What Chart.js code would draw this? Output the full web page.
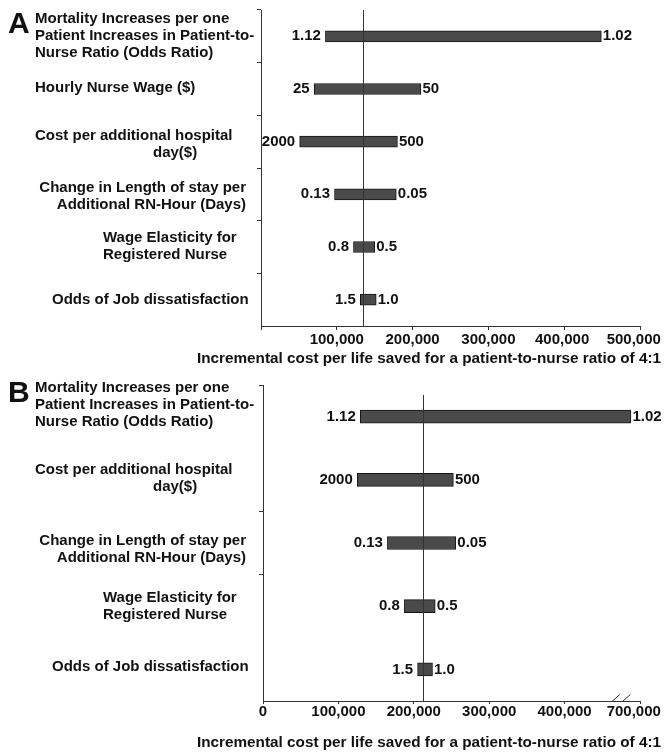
<!DOCTYPE html>
<html lang="en">
<head>
<meta charset="utf-8">
<title>Tornado diagrams: incremental cost per life saved</title>
<script src="https://cdn.jsdelivr.net/npm/chart.js@4.4.1/dist/chart.umd.min.js"></script>
<style>
  html, body { margin: 0; padding: 0; background: #ffffff; }
  #page { position: relative; width: 665px; height: 755px; overflow: hidden; }
  #page canvas { position: absolute; left: 0; }
  #panelA { top: 0; }
  #panelB { top: 370px; }
</style>
</head>
<body>
<div id="page">
  <canvas id="panelA" width="665" height="370"></canvas>
  <canvas id="panelB" width="665" height="385"></canvas>
</div>
<script>
// ---------- Panel A ----------
const categoriesA = [
  ['Mortality Increases per one', 'Patient Increases in Patient-to-', 'Nurse Ratio (Odds Ratio)'],
  ['Hourly Nurse Wage ($)'],
  ['Cost per additional hospital', 'day($)'],
  ['Change in Length of stay per', 'Additional RN-Hour (Days)'],
  ['Wage Elasticity for', 'Registered Nurse'],
  ['Odds of Job dissatisfaction']
];
const lowCostA  = [85000, 70000, 51000, 97000, 122000, 131000];
const highCostA = [449000, 211000, 180000, 178500, 150000, 152000];
const lowLabelsA  = ['1.12', '25', '2000', '0.13', '0.8', '1.5'];
const highLabelsA = ['1.02', '50', '500', '0.05', '0.5', '1.0'];
const baseCaseA = 134000;
const xTickValuesA = [0, 100000, 200000, 300000, 400000, 500000];
const xTickLabelsA = ['', '100,000', '200,000', '300,000', '400,000', '500,000'];

// ---------- Panel B ----------
const categoriesB = [
  ['Mortality Increases per one', 'Patient Increases in Patient-to-', 'Nurse Ratio (Odds Ratio)'],
  ['Cost per additional hospital', 'day($)'],
  ['Change in Length of stay per', 'Additional RN-Hour (Days)'],
  ['Wage Elasticity for', 'Registered Nurse'],
  ['Odds of Job dissatisfaction']
];
const lowCostB  = [129000, 125000, 165000, 187500, 205000];
const highCostB = [664000, 252500, 255700, 228400, 224800];
const lowLabelsB  = ['1.12', '2000', '0.13', '0.8', '1.5'];
const highLabelsB = ['1.02', '500', '0.05', '0.5', '1.0'];
const baseCaseB = 212500;
const xTickValuesB = [0, 100000, 200000, 300000, 400000, 700000];
const xTickLabelsB = ['0', '100,000', '200,000', '300,000', '400,000', '700,000'];

const axisTitle = 'Incremental cost per life saved for a patient-to-nurse ratio of 4:1';

// ---------- styling ----------
const FONT = '"Liberation Sans", Arial, Helvetica, sans-serif';
const INK = '#111111';
const AXIS = '#333333';
const BAR_FILL = '#4a4a4a';
const BAR_EDGE = '#141414';
const LINE_H = 17;

// how each parameter name is set beside its row: alignment, x of each line, vertical shift
const nameLayoutA = [
  { align: 'left',  x: [35, 35, 35], dy: 0 },
  { align: 'left',  x: [35], dy: -1 },
  { align: 'left',  x: [35, 153], dy: 3 },
  { align: 'right', x: [246, 246], dy: 2 },
  { align: 'left',  x: [103, 103], dy: -1 },
  { align: 'left',  x: [52], dy: 0 }
];
const nameLayoutB = [
  { align: 'left',  x: [35, 35, 35], dy: -12 },
  { align: 'left',  x: [35, 153], dy: -1.5 },
  { align: 'right', x: [246, 246], dy: 6 },
  { align: 'left',  x: [103, 103], dy: 0 },
  { align: 'left',  x: [52], dy: -3 }
];

// Linear axis whose values above `breakAt` are squeezed by `squeeze` (broken x axis of panel B)
class BrokenLinearScale extends Chart.LinearScale {
  static id = 'brokenLinear';
  static defaults = Chart.LinearScale.defaults;
  _brk() {
    return { at: this.options.breakAt ?? Infinity, k: this.options.squeeze ?? 1 };
  }
  _toAxis(v) { const b = this._brk(); return v <= b.at ? v : b.at + (v - b.at) / b.k; }
  _fromAxis(a) { const b = this._brk(); return a <= b.at ? a : b.at + (a - b.at) * b.k; }
  getPixelForValue(v) {
    if (v === null || v === undefined || isNaN(v)) return NaN;
    const a0 = this._toAxis(this.min), a1 = this._toAxis(this.max);
    return this.getPixelForDecimal((this._toAxis(v) - a0) / (a1 - a0));
  }
  getValueForPixel(px) {
    const a0 = this._toAxis(this.min), a1 = this._toAxis(this.max);
    return this._fromAxis(a0 + this.getDecimalForPixel(px) * (a1 - a0));
  }
}
Chart.register(BrokenLinearScale);

// reference line, end labels, parameter names, axis title, panel letter
function tornadoPlugin(p) {
  return {
    id: 'tornado' + p.letter,
    afterDatasetsDraw(chart) {
      const { ctx, chartArea } = chart;
      const xs = chart.scales.x, ys = chart.scales.y;
      ctx.save();

      // base-case value
      const bx = Math.round(xs.getPixelForValue(p.baseCase)) + 0.5;
      ctx.strokeStyle = AXIS;
      ctx.lineWidth = 1;
      ctx.beginPath();
      ctx.moveTo(bx, chartArea.top + p.baseInset);
      ctx.lineTo(bx, chartArea.bottom);
      ctx.stroke();

      // parameter values at the two ends of each bar
      ctx.font = `bold 15px ${FONT}`;
      ctx.fillStyle = INK;
      ctx.textBaseline = 'middle';
      p.low.forEach((lo, i) => {
        const y = ys.getPixelForValue(i);
        ctx.textAlign = 'right';
        ctx.fillText(p.lowLabels[i], xs.getPixelForValue(lo) - 4.5, y);
        ctx.textAlign = 'left';
        ctx.fillText(p.highLabels[i], xs.getPixelForValue(p.high[i]) + 1.5, y);
      });

      // parameter names
      p.categories.forEach((lines, i) => {
        const lay = p.layout[i];
        const yc = ys.getPixelForValue(i) + lay.dy;
        const y0 = yc - (lines.length - 1) * LINE_H / 2;
        ctx.textAlign = lay.align;
        lines.forEach((t, j) => ctx.fillText(t, lay.x[j], y0 + j * LINE_H));
      });

      // axis title
      ctx.font = `bold 15.3px ${FONT}`;
      ctx.textAlign = 'center';
      ctx.fillText(axisTitle, 429, p.titleY);

      // panel letter
      ctx.font = `bold 30px ${FONT}`;
      ctx.textAlign = 'left';
      ctx.textBaseline = 'alphabetic';
      ctx.fillText(p.letter, 8, p.letterY);

      // break marks on the x axis
      if (p.breakMarks) {
        const pa = xs.getPixelForValue(p.breakMarks.from);
        const pb = xs.getPixelForValue(p.breakMarks.to);
        const yAx = chartArea.bottom;
        ctx.strokeStyle = AXIS;
        ctx.lineWidth = 1;
        [0.68, 0.82].forEach(f => {
          const cx = pa + (pb - pa) * f;
          ctx.beginPath();
          ctx.moveTo(cx - 4, yAx + 0.5);
          ctx.lineTo(cx + 4, yAx - 6.5);
          ctx.stroke();
        });
      }
      ctx.restore();
    }
  };
}

const nbsp = n => '\u00a0'.repeat(n);

function buildPanel(canvasId, p) {
  const xScale = {
    type: p.scaleType,
    min: p.xTicks[0],
    max: p.xTicks[p.xTicks.length - 1],
    afterBuildTicks: s => { s.ticks = p.xTicks.map(v => ({ value: v })); },
    afterFit: s => { s.height = p.xAxisHeight; s.paddingLeft = 0; s.paddingRight = 0; },
    ticks: {
      autoSkip: false,
      maxRotation: 0,
      padding: p.tickPad,
      color: INK,
      font: { family: FONT, size: 15, weight: 'bold', lineHeight: 1 },
      callback: (v, i) => p.xTickLabels[i] + nbsp(p.labelNudge[i] || 0)
    },
    grid: { display: true, drawOnChartArea: false, drawTicks: true, tickLength: p.tickLen, tickColor: AXIS, lineWidth: 1 },
    border: { display: true, color: AXIS, width: 1 }
  };
  if (p.scaleType === 'brokenLinear') {
    xScale.breakAt = p.breakAt;
    xScale.squeeze = p.squeeze;
  }
  return new Chart(document.getElementById(canvasId), {
    type: 'bar',
    data: {
      labels: p.categories.map(c => c.join(' ')),
      datasets: [{
        data: p.low.map((lo, i) => [lo, p.high[i]]),
        backgroundColor: BAR_FILL,
        borderColor: BAR_EDGE,
        borderWidth: 1,
        borderSkipped: false,
        barThickness: p.barThickness
      }]
    },
    options: {
      indexAxis: 'y',
      responsive: false,
      animation: false,
      devicePixelRatio: 1,
      layout: { padding: { top: p.padTop, right: 25, left: 0, bottom: 0 } },
      plugins: { legend: { display: false }, tooltip: { enabled: false }, title: { display: false } },
      scales: {
        x: xScale,
        y: {
          type: 'category',
          afterFit: s => { s.width = p.yAxisWidth; },
          ticks: { display: false },
          grid: {
            display: true, drawOnChartArea: false, drawTicks: true, tickLength: 4, offset: true,
            tickColor: c => (p.yTickShown.includes(c.index) ? AXIS : 'rgba(0,0,0,0)')
          },
          border: { display: true, color: AXIS, width: 1 }
        }
      }
    },
    plugins: [tornadoPlugin(p)]
  });
}

buildPanel('panelA', {
  letter: 'A', letterY: 33, titleY: 359,
  categories: categoriesA, layout: nameLayoutA,
  low: lowCostA, high: highCostA, lowLabels: lowLabelsA, highLabels: highLabelsA,
  baseCase: baseCaseA, baseInset: 0,
  scaleType: 'linear', xTicks: xTickValuesA, xTickLabels: xTickLabelsA, labelNudge: [0, 0, 0, 0, 1, 3],
  padTop: 10, xAxisHeight: 44, yAxisWidth: 261, tickLen: 4, tickPad: 2,
  barThickness: 11, yTickShown: [0, 1, 2, 3, 4, 5]
});

buildPanel('panelB', {
  letter: 'B', letterY: 32, titleY: 373,
  categories: categoriesB, layout: nameLayoutB,
  low: lowCostB, high: highCostB, lowLabels: lowLabelsB, highLabels: highLabelsB,
  baseCase: baseCaseB, baseInset: 10,
  scaleType: 'brokenLinear', breakAt: 400000, squeeze: 3,
  breakMarks: { from: 400000, to: 700000 },
  xTicks: xTickValuesB, xTickLabels: xTickLabelsB, labelNudge: [0, 0, 0, 0, 0, 3],
  padTop: 15, xAxisHeight: 54, yAxisWidth: 263, tickLen: 3, tickPad: 0,
  barThickness: 13, yTickShown: [0, 2, 3]
});
</script>
</body>
</html>
